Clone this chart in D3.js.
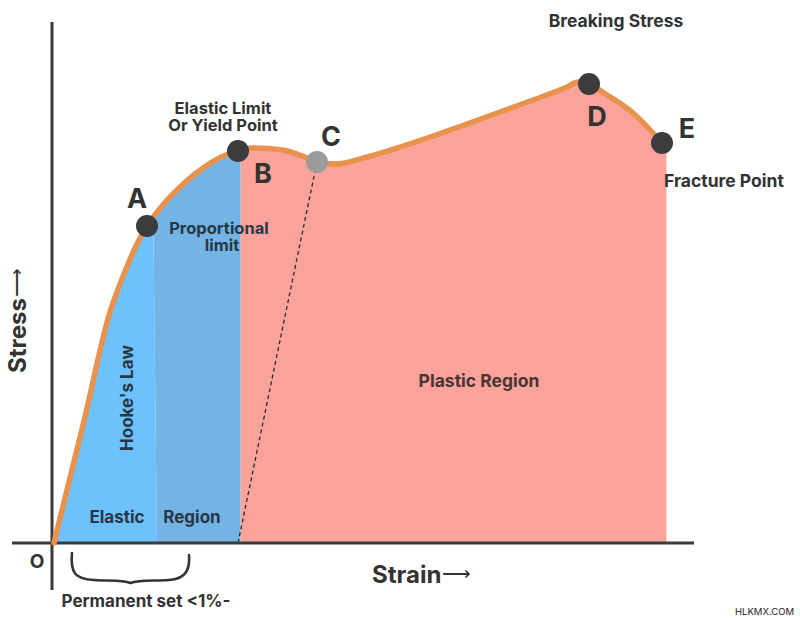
<!DOCTYPE html>
<html>
<head>
<meta charset="utf-8">
<script src="https://cdn.jsdelivr.net/npm/d3@7/dist/d3.min.js"></script>
<style>
  html, body { margin: 0; padding: 0; background: #fff; }
  svg { display: block; }
  text { font-family: Inter, "Noto Sans", sans-serif; }
</style>
</head>
<body>
<svg id="chart" width="800" height="618"></svg>
<script>
// ---- data (strain %, stress units) ----
const curveStrain = [0, 1.5, 2.8, 3.5, 4.1, 4.65, 5.4, 6.2, 7.05, 7.9, 8.7, 9.2, 9.9, 11.45, 12.65, 13.15, 14.05, 15.65, 17.3, 18.95, 20.65, 22.3, 23.95, 25.65, 26.2, 26.75, 27.65, 28.95, 30.4];
const curveStress = [0, 122, 231, 269, 297, 317, 337, 354, 369, 381, 389, 392, 395, 393, 385, 381, 379, 386, 396, 407, 419, 431, 443, 456, 461, 459, 448, 430, 400];

const pointLabels = ["A", "B", "C", "D", "E"];
const pointStrain = [4.65, 9.2, 13.15, 26.75, 30.4];
const pointStress = [317, 392, 381, 459, 400];

// region boundaries (strain)
const hookeBoundaryTop = 4.85;     // light/dark blue boundary at top
const hookeBoundaryBottom = 5.15;  // at bottom
const elasticLimitStrain = 9.33;   // blue / pink boundary
const offsetStartStrain = 9.2;     // dashed offset line start on strain axis

const xDomain = [0, 32];
const yDomain = [0, 520];

// ---- drawing ----
const svg = d3.select("#chart");
const x = d3.scaleLinear().domain(xDomain).range([54, 694]);
const y = d3.scaleLinear().domain(yDomain).range([543, 23]);

const data = curveStrain.map((s, i) => ({ s, v: curveStress[i] }));
const curve = d3.curveMonotoneX;

const defs = svg.append("defs");
defs.append("clipPath").attr("id", "clipLight")
  .append("polygon")
  .attr("points", [[x(-1), y(0)], [x(-1), y(520)], [x(hookeBoundaryTop), y(520)], [x(hookeBoundaryBottom), y(0)]].map(p => p.join(",")).join(" "));
defs.append("clipPath").attr("id", "clipDark")
  .append("polygon")
  .attr("points", [[x(hookeBoundaryTop), y(520)], [x(elasticLimitStrain), y(520)], [x(elasticLimitStrain), y(0)], [x(hookeBoundaryBottom), y(0)]].map(p => p.join(",")).join(" "));
defs.append("clipPath").attr("id", "clipPink")
  .append("rect")
  .attr("x", x(elasticLimitStrain)).attr("y", 0)
  .attr("width", 800).attr("height", y(0) - 0);

const area = d3.area().x(d => x(d.s)).y0(y(0)).y1(d => y(d.v)).curve(curve);

svg.append("path").datum(data).attr("d", area).attr("fill", "#6ec2fc").attr("clip-path", "url(#clipLight)");
svg.append("path").datum(data).attr("d", area).attr("fill", "#73b4e4").attr("clip-path", "url(#clipDark)");
svg.append("path").datum(data.concat([{ s: 30.62, v: 398 }])).attr("d", area).attr("fill", "#f9a39a").attr("clip-path", "url(#clipPink)");

// dashed offset line
svg.append("line")
  .attr("x1", x(offsetStartStrain)).attr("y1", y(0))
  .attr("x2", x(pointStrain[2])).attr("y2", y(pointStress[2]))
  .attr("stroke", "#2a2a2a").attr("stroke-width", 1.3).attr("stroke-dasharray", "4,3");

// axes
const axisColor = "#3a3a3a";
const xAxis = d3.axisBottom(x).tickValues([]).tickSizeOuter(0);
const yAxis = d3.axisLeft(y).tickValues([]).tickSizeOuter(0);
const gx = svg.append("g").attr("transform", `translate(0,${y(0)})`).call(xAxis);
gx.select(".domain").attr("d", `M12,0H${x(32)}`).attr("stroke", axisColor).attr("stroke-width", 3);
const gy = svg.append("g").attr("transform", `translate(${x(0) - 2},0)`).call(yAxis);
gy.select(".domain").attr("d", `M0,22V590`).attr("stroke", axisColor).attr("stroke-width", 3);

// curve
const line = d3.line().x(d => x(d.s)).y(d => y(d.v)).curve(curve);
svg.append("path").datum(data).attr("d", line)
  .attr("fill", "none").attr("stroke", "#e8924e").attr("stroke-width", 5.5)
  .attr("stroke-linecap", "round").attr("stroke-linejoin", "round");

// points
svg.selectAll("circle.pt").data(pointLabels).join("circle")
  .attr("class", "pt")
  .attr("cx", (d, i) => x(pointStrain[i]))
  .attr("cy", (d, i) => y(pointStress[i]))
  .attr("r", 11)
  .attr("fill", d => d === "C" ? "#9b9b9b" : "#3c3c3e");

// point letters
const letterPos = { A: [137, 208], B: [263, 183], C: [331, 146], D: [597, 126], E: [687, 138] };
svg.selectAll("text.letter").data(pointLabels).join("text")
  .attr("class", "letter")
  .attr("x", d => letterPos[d][0]).attr("y", d => letterPos[d][1])
  .attr("text-anchor", "middle")
  .attr("font-size", 27).attr("font-weight", 700).attr("fill", "#333")
  .text(d => d);

function label(txt, px, py, opts = {}) {
  const t = svg.append("text")
    .attr("x", px).attr("y", py)
    .attr("text-anchor", opts.anchor || "middle")
    .attr("font-size", opts.size || 17)
    .attr("font-weight", opts.weight || 700)
    .attr("fill", opts.fill || "#333")
    .text(txt);
  if (opts.rotate) t.attr("transform", `rotate(${opts.rotate},${px},${py})`);
  if (opts.family) t.attr("font-family", opts.family);
  return t;
}

label("Breaking Stress", 616, 27, { size: 17.5 });
label("Elastic Limit", 223, 114, { size: 16.5 });
label("Or Yield Point", 223, 131, { size: 16.5 });
label("Proportional", 219, 234, { size: 16.5, fill: "#283746" });
label("limit", 222, 251, { size: 16.5, fill: "#283746" });
label("Fracture Point", 664, 187, { size: 17.5, anchor: "start" });
label("Hooke's Law", 133, 398, { size: 17, rotate: -90, fill: "#283746" });
label("Elastic", 117, 523, { size: 17, fill: "#283746" });
label("Region", 192, 523, { size: 17, fill: "#283746" });
label("Plastic Region", 479, 387, { size: 17.5, fill: "#4a3535" });
label("O", 37, 568, { size: 19, weight: 700 });
label("Permanent set <1%-", 146, 607, { size: 17 });
label("HLKMX.COM", 794, 615, { size: 9.5, anchor: "end", weight: 400, family: "'Liberation Sans Narrow', 'Liberation Sans', Arial, sans-serif", fill: "#222" });

// axis titles with arrows
const st = svg.append("text").attr("x", 372).attr("y", 583)
  .attr("font-size", 24).attr("font-weight", 700).attr("fill", "#333");
st.append("tspan").text("Strain");
st.append("tspan").attr("dx", 1).attr("dy", -3).attr("font-weight", 300).attr("font-family", "'DejaVu Sans', sans-serif").attr("font-size", 20).text("⟶");

const sy = svg.append("text").attr("transform", "translate(26,373) rotate(-90)")
  .attr("font-size", 24).attr("font-weight", 700).attr("fill", "#333");
sy.append("tspan").text("Stress");
sy.append("tspan").attr("dx", 1).attr("dy", -3).attr("font-weight", 300).attr("font-family", "'DejaVu Sans', sans-serif").attr("font-size", 20).text("⟶");

// brace under permanent set
const braceStrain = [0.9, 6.75];
const bx0 = x(braceStrain[0]), bx1 = x(braceStrain[1]), bm = (bx0 + bx1) / 2;
const bp = d3.path();
bp.moveTo(bx0, 553);
bp.bezierCurveTo(bx0 - 2, 574, bx0 + 4, 579, bx0 + 22, 580);
bp.bezierCurveTo(bm - 22, 581, bm - 8, 580, bm, 583);
bp.bezierCurveTo(bm + 8, 580, bm + 22, 581, bx1 - 20, 580);
bp.bezierCurveTo(bx1 - 2, 579, bx1 + 1, 568, bx1, 555);
svg.append("path").attr("d", bp.toString()).attr("fill", "none")
  .attr("stroke", "#333").attr("stroke-width", 2.6).attr("stroke-linecap", "round");
</script>
</body>
</html>
